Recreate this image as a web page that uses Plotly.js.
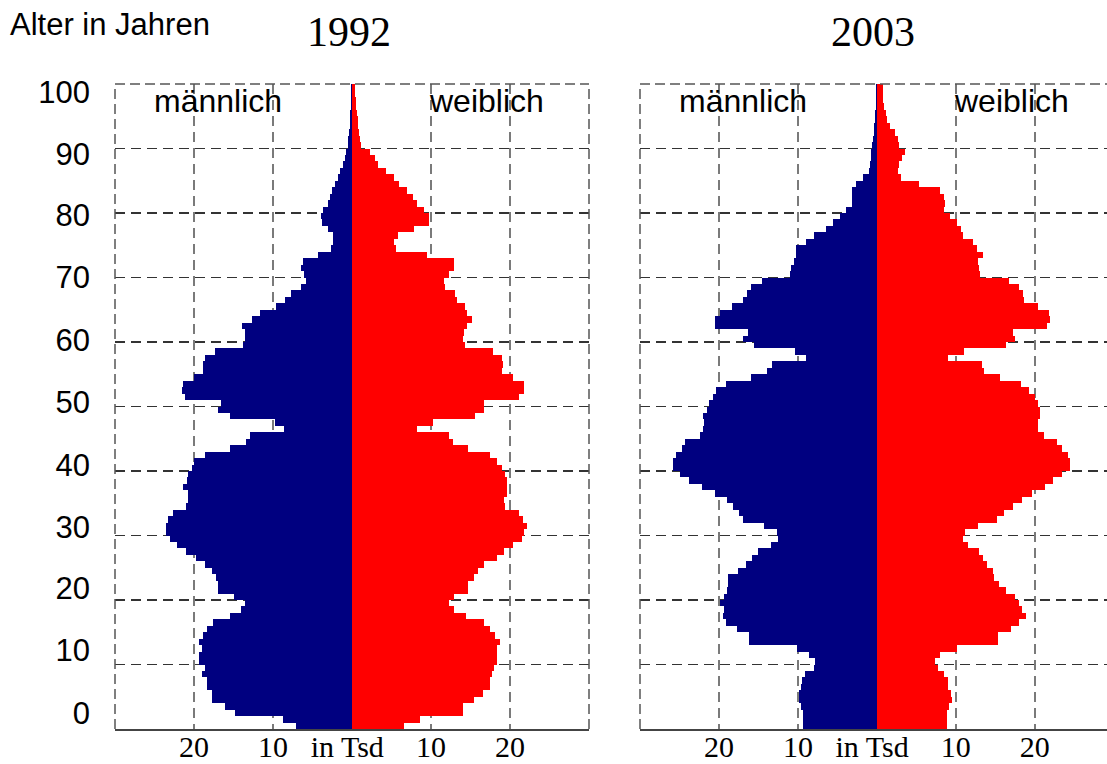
<!DOCTYPE html>
<html>
<head>
<meta charset="utf-8">
<script src="https://cdn.plot.ly/plotly-3.0.1.min.js"></script>
<style>html,body{margin:0;padding:0;background:#fff;}#chart{width:1107px;height:764px;}</style>
</head>
<body>
<div id="chart"></div>
<script>
// Age in years (single-year bins 0..99)
const ages = Array.from({length: 100}, (_, i) => i);

// Population in thousands, index = age
const male1992 = [7.05,8.7,14.75,16.1,17.7,17.7,18.3,18.3,18.95,18.55,
  19.4,19.4,18.95,19.4,18.8,18.4,17.65,15.4,14.05,13.6,
  15.0,16.9,17.0,17.2,17.7,18.55,19.7,21.0,22.1,23.1,
  23.5,23.5,23.35,22.6,21.0,20.8,20.7,21.35,20.85,20.7,
  20.2,19.95,18.55,15.5,13.4,12.9,8.55,9.8,15.4,16.9,
  16.55,21.1,21.5,21.35,19.95,18.8,18.8,18.55,17.4,13.75,
  13.5,13.6,13.9,12.6,11.6,9.6,8.45,7.7,6.5,5.85,
  6.1,6.4,6.25,4.35,2.65,2.35,2.45,3.1,3.75,3.9,
  3.7,3.1,2.8,2.5,2.1,1.8,1.5,1.2,0.9,0.7,
  0.55,0.45,0.35,0.3,0.25,0.2,0.15,0.12,0.1,0.1];

const female1992 = [6.55,8.65,14.05,14.05,15.4,16.6,17.45,17.45,17.7,17.95,
  18.35,18.35,18.35,18.7,18.15,17.45,16.65,14.45,12.85,12.3,
  12.85,14.7,14.7,15.4,15.95,16.75,18.35,19.3,20.4,21.5,
  21.75,22.15,21.65,21.15,19.4,19.3,19.6,19.6,19.6,19.4,
  19.0,18.35,17.45,14.7,12.8,12.3,8.25,10.25,15.55,16.75,
  16.65,21.15,21.8,21.8,20.4,19.0,19.1,19.0,17.85,14.35,
  14.05,14.2,14.5,15.2,14.55,14.25,13.3,13.1,11.8,11.6,
  12.3,12.9,12.9,9.5,5.55,5.3,5.8,7.9,9.8,9.7,
  9.05,8.2,7.7,6.95,6.0,5.35,4.35,3.3,2.95,2.25,
  1.15,1.0,0.85,0.75,0.7,0.6,0.55,0.45,0.4,0.4];

const male2003 = [9.3,9.3,9.4,9.55,9.85,9.8,9.6,9.5,9.05,8.0,
  7.8,8.65,10.1,16.25,16.25,17.7,19.15,19.55,19.3,19.9,
  19.3,19.0,18.9,18.8,17.6,16.55,15.85,15.1,13.45,12.55,
  12.65,14.35,16.9,17.5,18.25,19.0,20.55,22.2,23.85,24.9,
  25.85,25.85,25.5,24.7,24.35,22.45,22.05,21.85,22.05,21.55,
  21.3,20.7,20.4,19.05,16.0,13.9,13.25,9.0,10.35,15.5,
  16.9,16.3,20.55,20.55,19.9,18.4,17.0,16.4,15.9,14.6,
  11.05,10.9,10.55,10.3,10.2,9.0,8.0,6.5,5.5,4.7,
  3.9,3.2,3.1,3.1,2.7,1.7,1.0,0.85,0.75,0.75,
  0.6,0.5,0.4,0.35,0.25,0.2,0.1,0.1,0.1,0.1];

const female2003 = [8.85,8.85,8.85,9.2,9.5,9.35,9.05,8.95,8.45,7.7,
  7.4,8.0,10.1,15.3,15.3,16.95,17.95,18.85,18.35,18.05,
  17.5,16.3,15.5,14.9,14.7,13.9,13.5,12.9,11.5,10.9,
  11.2,12.8,15.2,16.05,17.2,18.4,19.7,21.3,22.35,23.45,
  24.4,24.4,24.2,23.45,22.8,21.2,20.45,20.45,20.65,20.65,
  20.35,20.05,19.3,18.25,15.6,13.6,13.35,9.05,11.05,16.35,
  17.5,17.2,21.5,21.95,21.8,20.35,18.65,18.5,18.05,16.7,
  13.1,13.0,12.85,13.4,12.65,12.15,10.95,10.65,10.1,9.3,
  8.5,8.6,8.5,8.0,5.4,3.05,2.65,2.8,3.2,3.6,
  2.8,2.65,2.3,1.7,1.3,1.1,0.9,0.75,0.75,0.75];

// Tick labels (the age labels are evenly spaced, slightly compressed vs. the grid)
const yTickVals = [2.5,12.2,21.8,31.3,40.9,50.7,60.3,70.0,79.7,89.2,98.7];
const yTickText = ['0','10','20','30','40','50','60','70','80','90','100'];
const xTickVals = [-20,-10,-0.6,10,20];
const xTickText = ['20','10','in Tsd','10','20'];
const gridVals = [-20,-10,10,20];
const yGridVals = [10,20,30,40,50,60,70,80,90];

const NAVY = '#000080', RED = '#ff0000';

function barTrace(vals, sign, color, xa, ya) {
  return {
    type: 'bar', orientation: 'h',
    y: ages, x: vals.map(v => sign * v),
    width: 1, offset: 0,
    marker: {color: color, line: {width: 0}},
    xaxis: xa, yaxis: ya, hoverinfo: 'skip'
  };
}

const data = [
  barTrace(male1992, -1, NAVY, 'x', 'y'),
  barTrace(female1992, 1, RED, 'x', 'y'),
  barTrace(male2003, -1, NAVY, 'x2', 'y2'),
  barTrace(female2003, 1, RED, 'x2', 'y2')
];

const W = 1107, H = 764;
const yDom = [(H - 729) / H, (H - 84) / H];

function xAxis(domain, range, anchor) {
  return {
    domain: domain, range: range, anchor: anchor, fixedrange: true,
    tickmode: 'array', tickvals: xTickVals, ticktext: xTickText,
    tickfont: {family: 'Liberation Serif, Times New Roman, serif', size: 30, color: '#000'},
    ticks: '', ticklabelstandoff: -10, showgrid: false, zeroline: false,
    showline: true, linecolor: '#444', linewidth: 2,
    minor: {tickmode: 'array', tickvals: gridVals, showgrid: true, gridcolor: '#7a7a7a', gridwidth: 1.5, griddash: '10px,6px', ticks: ''}
  };
}
function yAxis(anchor, labels) {
  return {
    domain: yDom, range: [0, 100], anchor: anchor, fixedrange: true,
    tickmode: 'array', tickvals: yTickVals, ticktext: yTickText,
    showticklabels: labels, ticks: '', ticklabelstandoff: 24,
    tickfont: {family: 'Liberation Sans, Arial, sans-serif', size: 31, color: '#000'},
    showgrid: false, zeroline: false, showline: false,
    minor: {tickmode: 'array', tickvals: yGridVals, showgrid: true, gridcolor: '#333', gridwidth: 1.2, griddash: '10px,6px', ticks: ''}
  };
}

const frameLine = {color: '#555', width: 1.5, dash: '10px,5px'};
function frame(xr, yr, right) {
  const s = [
    {type: 'line', xref: xr + ' domain', yref: yr + ' domain', x0: 0, x1: 0, y0: 0, y1: 1, line: frameLine, layer: 'above'},
    {type: 'line', xref: xr + ' domain', yref: yr + ' domain', x0: 0, x1: 1, y0: 1, y1: 1, line: frameLine, layer: 'above'}
  ];
  if (right) s.push({type: 'line', xref: xr + ' domain', yref: yr + ' domain', x0: 1, x1: 1, y0: 0, y1: 1, line: frameLine, layer: 'above'});
  return s;
}

const sans = 'Liberation Sans, Arial, sans-serif';
const serif = 'Liberation Serif, Times New Roman, serif';

const layout = {
  width: W, height: H,
  margin: {l: 0, r: 0, t: 0, b: 0, pad: 0},
  paper_bgcolor: '#fff', plot_bgcolor: '#fff',
  showlegend: false, barmode: 'overlay', bargap: 0,
  xaxis: xAxis([115 / W, 589 / W], [-30, 30], 'y'),
  yaxis: yAxis('x', true),
  xaxis2: xAxis([640 / W, 1], [-30, 29.15], 'y2'),
  yaxis2: yAxis('x2', false),
  shapes: frame('x', 'y', true).concat(frame('x2', 'y2', false)),
  annotations: [
    {text: 'Alter in Jahren', xref: 'paper', yref: 'paper', x: 8 / W, y: 1 - 24 / H, xanchor: 'left', yanchor: 'middle', showarrow: false, font: {family: sans, size: 31, color: '#000'}},
    {text: '1992', xref: 'paper', yref: 'paper', x: 349 / W, y: 1 - 32 / H, xanchor: 'center', yanchor: 'middle', showarrow: false, font: {family: serif, size: 42, color: '#000'}},
    {text: '2003', xref: 'paper', yref: 'paper', x: 873 / W, y: 1 - 32 / H, xanchor: 'center', yanchor: 'middle', showarrow: false, font: {family: serif, size: 42, color: '#000'}},
    {text: 'männlich', xref: 'x', yref: 'y', x: -16.9, y: 97.3, showarrow: false, font: {family: sans, size: 32, color: '#000'}},
    {text: 'weiblich', xref: 'x', yref: 'y', x: 17.0, y: 97.3, showarrow: false, font: {family: sans, size: 32, color: '#000'}},
    {text: 'männlich', xref: 'x2', yref: 'y2', x: -16.9, y: 97.3, showarrow: false, font: {family: sans, size: 32, color: '#000'}},
    {text: 'weiblich', xref: 'x2', yref: 'y2', x: 17.0, y: 97.3, showarrow: false, font: {family: sans, size: 32, color: '#000'}}
  ]
};

Plotly.newPlot('chart', data, layout, {displayModeBar: false, staticPlot: true});
</script>
</body>
</html>
